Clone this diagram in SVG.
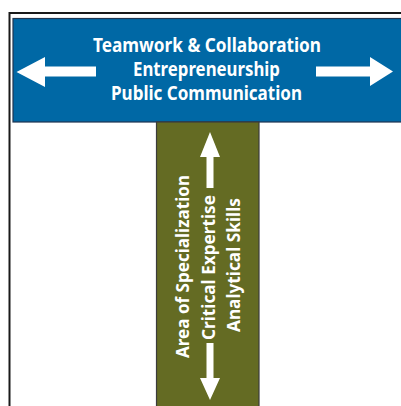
<svg xmlns="http://www.w3.org/2000/svg" width="401" height="406" viewBox="0 0 401 406">
<style>
.t{font-family:"Noto Sans","Open Sans","Liberation Sans",sans-serif;font-weight:bold;fill:#ffffff;}
.arrow{fill:#ffffff;}
</style>
<rect x="0" y="0" width="401" height="406" fill="#ffffff"/>
<rect id="frame" x="9.5" y="13" width="400" height="400" fill="#ffffff" stroke="#1a1a1a" stroke-width="2"/>
<g id="horizontal">
<rect x="13" y="18.5" width="395" height="103.5" fill="#0068a5" stroke="#1f3550" stroke-width="1.2"/>
<text class="t" font-size="19" text-anchor="middle" x="207" y="51.5" textLength="228" lengthAdjust="spacingAndGlyphs">Teamwork &amp; Collaboration</text>
<text class="t" font-size="19" text-anchor="middle" x="206.5" y="75.5" textLength="147" lengthAdjust="spacingAndGlyphs">Entrepreneurship</text>
<text class="t" font-size="19" text-anchor="middle" x="206.5" y="100" textLength="191" lengthAdjust="spacingAndGlyphs">Public Communication</text>
</g>
<g id="vertical">
<rect x="156.5" y="122" width="102.5" height="290" fill="#646b23" stroke="#3b3b3b" stroke-width="1.2"/>
<text class="t" font-size="18.5" text-anchor="middle" transform="translate(188.5,266.5) rotate(-90)" textLength="183" lengthAdjust="spacingAndGlyphs">Area of Specialization</text>
<text class="t" font-size="18.5" text-anchor="middle" transform="translate(214.5,267.5) rotate(-90)" textLength="145" lengthAdjust="spacingAndGlyphs">Critical Expertise</text>
<text class="t" font-size="18.5" text-anchor="middle" transform="translate(240,265) rotate(-90)" textLength="134" lengthAdjust="spacingAndGlyphs">Analytical Skills</text>
</g>
<g id="connectors">
<polygon class="arrow" points="16.5,72 45,57 45,66.5 96,66.5 96,76.5 45,76.5 45,87"/>
<polygon class="arrow" points="393,71.5 370,57 370,66.5 316,66.5 316,76.5 370,76.5 370,86"/>
<polygon class="arrow" points="210,132 220,157 213.5,157 213.5,188 206.5,188 206.5,157 200,157"/>
<polygon class="arrow" points="210,400 220,378 213.5,378 213.5,343 206.5,343 206.5,378 200,378"/>
</g>
</svg>
